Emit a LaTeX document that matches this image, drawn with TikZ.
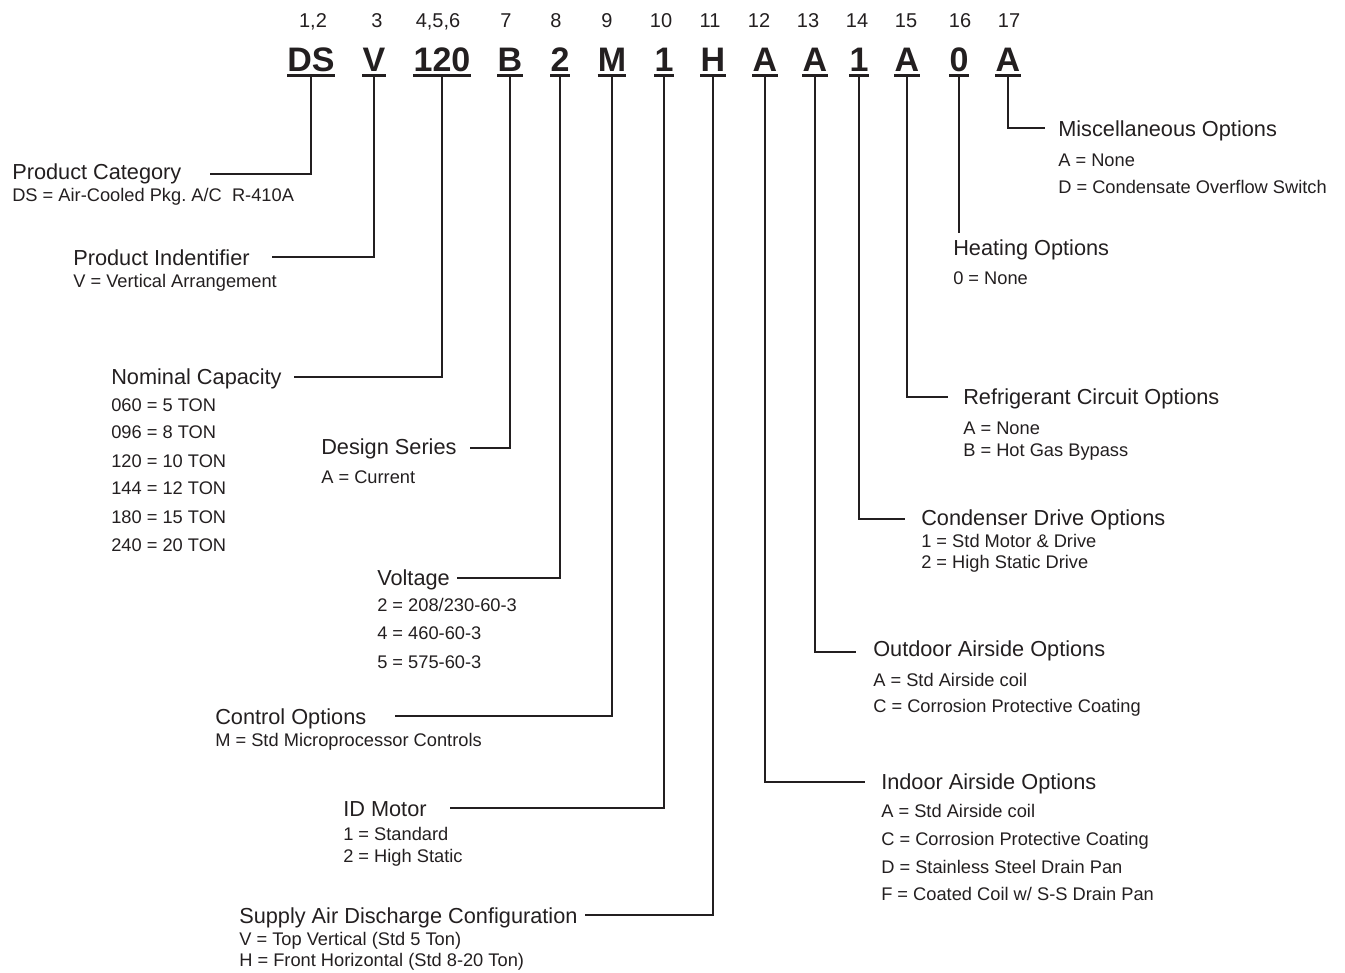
\documentclass[tikz,border=0pt]{standalone}
\usepackage{fontspec}
\setmainfont{Liberation Sans}
\frenchspacing
\definecolor{ink}{HTML}{231F20}
\tikzset{
  hd/.style={anchor=base west, inner sep=0pt, font=\fontsize{16.3}{18}\selectfont, text=ink},
  sb/.style={anchor=base west, inner sep=0pt, font=\fontsize{13.7}{16}\selectfont, text=ink},
  codebox/.style={anchor=base, inner sep=0pt, font=\fontsize{25.5}{28}\selectfont\bfseries, text=ink},
  posnum/.style={anchor=base, inner sep=0pt, font=\fontsize{15}{17}\selectfont, text=ink},
  ul/.style={line width=2.3pt, draw=ink},
  conn/.style={line width=1pt, draw=ink},
}
\newcommand{\codeul}[1]{\draw[ul] ([yshift=-3.4pt]#1.base west) -- ([yshift=-3.4pt]#1.base east);}
\begin{document}
\begin{tikzpicture}[x=0.75pt,y=-0.75pt]
\useasboundingbox (0,0) rectangle (1345,972);

% position numbers
\node[posnum] (p1)  at (313,27) {1,2};
\node[posnum] (p2)  at (377,27) {3};
\node[posnum] (p3)  at (438,27) {4,5,6};
\node[posnum] (p4)  at (506,27) {7};
\node[posnum] (p5)  at (556,27) {8};
\node[posnum] (p6)  at (607,27) {9};
\node[posnum] (p7)  at (661,27) {10};
\node[posnum] (p8)  at (710,27) {11};
\node[posnum] (p9)  at (759,27) {12};
\node[posnum] (p10) at (808,27) {13};
\node[posnum] (p11) at (857,27) {14};
\node[posnum] (p12) at (906,27) {15};
\node[posnum] (p13) at (960,27) {16};
\node[posnum] (p14) at (1009,27) {17};

% code letters
\node[codebox] (c1)  at (311,71) {DS};
\node[codebox] (c2)  at (374,71) {V};
\node[codebox] (c3)  at (442,71) {120};
\node[codebox] (c4)  at (510,71) {B};
\node[codebox] (c5)  at (560,71) {2};
\node[codebox] (c6)  at (612,71) {M};
\node[codebox] (c7)  at (664,71) {1};
\node[codebox] (c8)  at (713,71) {H};
\node[codebox] (c9)  at (765,71) {A};
\node[codebox] (c10) at (815,71) {A};
\node[codebox] (c11) at (859,71) {1};
\node[codebox] (c12) at (907,71) {A};
\node[codebox] (c13) at (959,71) {0};
\node[codebox] (c14) at (1008,71) {A};
\foreach \c in {c1,c2,c3,c4,c5,c6,c7,c8,c9,c10,c11,c12,c13,c14}{\codeul{\c}}

% left-side groups
\node[hd] (pc) at (12,179) {Product Category};
\node[sb] (pc1) at (12,201) {DS = Air-Cooled Pkg. A/C\ \ R-410A};

\node[hd] (pi) at (73,265) {Product Indentifier};
\node[sb] (pi1) at (73,287) {V = Vertical Arrangement};

\node[hd] (nc) at (111,384) {Nominal Capacity};
\node[sb] (nc1) at (111,411) {060 = 5 TON};
\node[sb] (nc2) at (111,438) {096 = 8 TON};
\node[sb] (nc3) at (111,467) {120 = 10 TON};
\node[sb] (nc4) at (111,494) {144 = 12 TON};
\node[sb] (nc5) at (111,523) {180 = 15 TON};
\node[sb] (nc6) at (111,551) {240 = 20 TON};

\node[hd] (ds) at (321,454) {Design Series};
\node[sb] (ds1) at (321,483) {A = Current};

\node[hd] (vo) at (377,585) {Voltage};
\node[sb] (vo1) at (377,611) {2 = 208/230-60-3};
\node[sb] (vo2) at (377,639) {4 = 460-60-3};
\node[sb] (vo3) at (377,668) {5 = 575-60-3};

\node[hd] (co) at (215,724) {Control Options};
\node[sb] (co1) at (215,746) {M = Std Microprocessor Controls};

\node[hd] (id) at (343,816) {ID Motor};
\node[sb] (id1) at (343,840) {1 = Standard};
\node[sb] (id2) at (343,862) {2 = High Static};

\node[hd] (sa) at (239,923) {Supply Air Discharge Configuration};
\node[sb] (sa1) at (239,945) {V = Top Vertical (Std 5 Ton)};
\node[sb] (sa2) at (239,966) {H = Front Horizontal (Std 8-20 Ton)};

% right-side groups
\node[hd] (mo) at (1058,136) {Miscellaneous Options};
\node[sb] (mo1) at (1058,166) {A = None};
\node[sb] (mo2) at (1058,193) {D = Condensate Overflow Switch};

\node[hd] (ho) at (953,255) {Heating Options};
\node[sb] (ho1) at (953,284) {0 = None};

\node[hd] (rc) at (963,404) {Refrigerant Circuit Options};
\node[sb] (rc1) at (963,434) {A = None};
\node[sb] (rc2) at (963,456) {B = Hot Gas Bypass};

\node[hd] (cd) at (921,525) {Condenser Drive Options};
\node[sb] (cd1) at (921,547) {1 = Std Motor \& Drive};
\node[sb] (cd2) at (921,568) {2 = High Static Drive};

\node[hd] (oa) at (873,656) {Outdoor Airside Options};
\node[sb] (oa1) at (873,686) {A = Std Airside coil};
\node[sb] (oa2) at (873,712) {C = Corrosion Protective Coating};

\node[hd] (ia) at (881,789) {Indoor Airside Options};
\node[sb] (ia1) at (881,817) {A = Std Airside coil};
\node[sb] (ia2) at (881,845) {C = Corrosion Protective Coating};
\node[sb] (ia3) at (881,873) {D = Stainless Steel Drain Pan};
\node[sb] (ia4) at (881,900) {F = Coated Coil w/ S-S Drain Pan};

% connector ends
\coordinate (pcE) at (210,174);
\coordinate (piE) at (272,257);
\coordinate (ncE) at (294,377);
\coordinate (dsE) at (470,448);
\coordinate (voE) at (457,578);
\coordinate (coE) at (395,716);
\coordinate (idE) at (450,808);
\coordinate (saE) at (585,915);
\coordinate (iaE) at (865,782);
\coordinate (oaE) at (856,652);
\coordinate (cdE) at (905,519);
\coordinate (rcE) at (948,397);
\coordinate (hoE) at (959,233);
\coordinate (moE) at (1045,128);

% connectors
\draw[conn] ([yshift=-4.6pt]c1.base)  |- (pcE);
\draw[conn] ([yshift=-4.6pt]c2.base)  |- (piE);
\draw[conn] ([yshift=-4.6pt]c3.base)  |- (ncE);
\draw[conn] ([yshift=-4.6pt]c4.base)  |- (dsE);
\draw[conn] ([yshift=-4.6pt]c5.base)  |- (voE);
\draw[conn] ([yshift=-4.6pt]c6.base)  |- (coE);
\draw[conn] ([yshift=-4.6pt]c7.base)  |- (idE);
\draw[conn] ([yshift=-4.6pt]c8.base)  |- (saE);
\draw[conn] ([yshift=-4.6pt]c9.base)  |- (iaE);
\draw[conn] ([yshift=-4.6pt]c10.base) |- (oaE);
\draw[conn] ([yshift=-4.6pt]c11.base) |- (cdE);
\draw[conn] ([yshift=-4.6pt]c12.base) |- (rcE);
\draw[conn] ([yshift=-4.6pt]c13.base) -- (hoE);
\draw[conn] ([yshift=-4.6pt]c14.base) |- (moE);
\end{tikzpicture}
\end{document}
